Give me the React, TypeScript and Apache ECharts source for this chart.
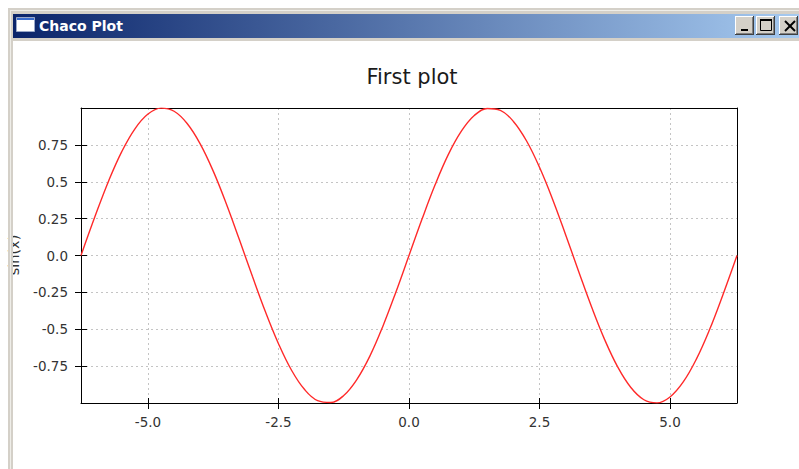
import React, { useEffect, useRef } from 'react';
import * as echarts from 'echarts';

const windowTitle = 'Chaco Plot';
const chartTitle = 'First plot';
const yAxisTitle = 'sin(x)';

const xValues = [
  -6.283, -6.0, -5.75, -5.5, -5.25, -5.0, -4.75, -4.5, -4.25, -4.0, -3.75, -3.5, -3.25,
  -3.0, -2.75, -2.5, -2.25, -2.0, -1.75, -1.5, -1.25, -1.0, -0.75, -0.5, -0.25, 0,
  0.25, 0.5, 0.75, 1.0, 1.25, 1.5, 1.75, 2.0, 2.25, 2.5, 2.75, 3.0, 3.25, 3.5, 3.75,
  4.0, 4.25, 4.5, 4.75, 5.0, 5.25, 5.5, 5.75, 6.0, 6.283,
];
const sinValues = [
  0.0, 0.279, 0.509, 0.706, 0.859, 0.959, 0.999, 0.978, 0.895, 0.757, 0.572, 0.351, 0.108,
  -0.141, -0.382, -0.598, -0.778, -0.909, -0.984, -0.997, -0.949, -0.841, -0.682, -0.479, -0.247, 0.0,
  0.247, 0.479, 0.682, 0.841, 0.949, 0.997, 0.984, 0.909, 0.778, 0.598, 0.382, 0.141, -0.108, -0.351, -0.572,
  -0.757, -0.895, -0.978, -0.999, -0.959, -0.859, -0.706, -0.509, -0.279, 0.0,
];
const xTickValues = [-5, -2.5, 0, 2.5, 5];
const yTickValues = [-0.75, -0.5, -0.25, 0, 0.25, 0.5, 0.75];
const xMin = -6.2832;
const xMax = 6.2832;
const yMin = -1;
const yMax = 1;

const FONT = 'DejaVu Sans';

export default function App() {
  const ref = useRef<HTMLDivElement>(null);

  useEffect(() => {
    const chart = echarts.init(ref.current!, null, { renderer: 'svg' });

    const gridLine = { show: true, lineStyle: { color: '#c4c4c4', width: 1, type: [2, 3] } };
    const axisLineBlack = { show: true, onZero: false, lineStyle: { color: '#000', width: 1 } };
    const labelStyle = { fontSize: 13.5, color: '#333', fontFamily: FONT };

    const buttons: any[] = [];
    [735, 756, 779].forEach((bx) => {
      buttons.push(
        { type: 'rect', z: 60, shape: { x: bx, y: 16, width: 19, height: 19 }, style: { fill: '#404040' } },
        { type: 'rect', z: 61, shape: { x: bx, y: 16, width: 18, height: 18 }, style: { fill: '#ffffff' } },
        { type: 'rect', z: 62, shape: { x: bx + 1, y: 17, width: 17, height: 17 }, style: { fill: '#808080' } },
        { type: 'rect', z: 63, shape: { x: bx + 1, y: 17, width: 16, height: 16 }, style: { fill: '#d4d0c8' } },
      );
    });

    const option: any = {
      animation: false,
      backgroundColor: '#ffffff',
      title: {
        text: chartTitle,
        left: 407,
        top: 61,
        textAlign: 'center',
        textStyle: { fontSize: 21, fontWeight: 'normal', color: '#1a1a1a', fontFamily: FONT },
      },
      grid: { left: 81, top: 108, width: 656, height: 295, containLabel: false, outerBoundsMode: 'none' },
      xAxis: [
        {
          type: 'value', position: 'bottom', min: xMin, max: xMax,
          axisLine: axisLineBlack,
          axisTick: { show: true, inside: false, length: 6, customValues: xTickValues, lineStyle: { color: '#000' } },
          axisLabel: { show: true, customValues: xTickValues, margin: 12, formatter: (v: number) => v.toFixed(1), ...labelStyle },
          splitLine: gridLine,
        },
        {
          type: 'value', position: 'bottom', min: xMin, max: xMax,
          axisLine: { show: false, onZero: false },
          axisTick: { show: true, inside: true, length: 5, customValues: xTickValues, lineStyle: { color: '#000' } },
          axisLabel: { show: false },
          splitLine: { show: false },
        },
        {
          type: 'value', position: 'top', min: xMin, max: xMax,
          axisLine: axisLineBlack,
          axisTick: { show: false },
          axisLabel: { show: false },
          splitLine: { show: false },
        },
      ],
      yAxis: [
        {
          type: 'value', position: 'left', min: yMin, max: yMax,
          axisLine: axisLineBlack,
          axisTick: { show: true, inside: false, length: 6, customValues: yTickValues, lineStyle: { color: '#000' } },
          axisLabel: {
            show: true, customValues: yTickValues, margin: 13,
            formatter: (v: number) => (v === 0 ? '0.0' : String(v)), ...labelStyle,
          },
          splitLine: gridLine,
        },
        {
          type: 'value', position: 'left', min: yMin, max: yMax,
          axisLine: { show: false, onZero: false },
          axisTick: { show: true, inside: true, length: 6, customValues: yTickValues, lineStyle: { color: '#000' } },
          axisLabel: { show: false },
          splitLine: { show: false },
        },
        {
          type: 'value', position: 'right', min: yMin, max: yMax,
          axisLine: axisLineBlack,
          axisTick: { show: false },
          axisLabel: { show: false },
          splitLine: { show: false },
        },
      ],
      series: [
        {
          type: 'line', xAxisIndex: 0, yAxisIndex: 0,
          data: xValues.map((x, i) => [x, sinValues[i]]),
          showSymbol: false, smooth: 0.4,
          lineStyle: { color: '#ff2a2a', width: 1.4 },
          z: 5,
        },
      ],
      graphic: [
        {
          type: 'text', x: 14, y: 255, rotation: Math.PI / 2, z: 1,
          style: { text: yAxisTitle, fontSize: 14.5, fontFamily: FONT, fill: '#333', align: 'center', verticalAlign: 'middle' },
        },
        // window frame
        { type: 'rect', z: 50, shape: { x: 8, y: 8, width: 5, height: 461 }, style: { fill: '#d4d0c8' } },
        { type: 'rect', z: 50, shape: { x: 8, y: 8, width: 791, height: 6 }, style: { fill: '#d4d0c8' } },
        { type: 'line', z: 51, shape: { x1: 10.5, y1: 10, x2: 10.5, y2: 469 }, style: { stroke: '#eeede8', lineWidth: 1 } },
        { type: 'line', z: 51, shape: { x1: 10, y1: 10.5, x2: 799, y2: 10.5 }, style: { stroke: '#eeede8', lineWidth: 1 } },
        { type: 'rect', z: 50, shape: { x: 13, y: 38, width: 786, height: 3 }, style: { fill: '#d4d0c8' } },
        {
          type: 'rect', z: 52, shape: { x: 13, y: 14, width: 786, height: 24 },
          style: {
            fill: new echarts.graphic.LinearGradient(0, 0, 1, 0, [
              { offset: 0, color: '#0a246a' },
              { offset: 1, color: '#a6caf0' },
            ]),
          },
        },
        // icon
        { type: 'rect', z: 53, shape: { x: 16.5, y: 17.5, width: 18, height: 14 }, style: { fill: '#ffffff', stroke: '#9aa8c8', lineWidth: 1 } },
        { type: 'rect', z: 54, shape: { x: 17, y: 18, width: 17, height: 2 }, style: { fill: '#3a6ccc' } },
        {
          type: 'text', z: 53, x: 39, y: 26,
          style: { text: windowTitle, fontSize: 14, fontWeight: 'bold', fontFamily: FONT, fill: '#ffffff', align: 'left', verticalAlign: 'middle' },
        },
        ...buttons,
        { type: 'rect', z: 70, shape: { x: 741, y: 29, width: 7, height: 2 }, style: { fill: '#000' } },
        { type: 'rect', z: 70, shape: { x: 760.5, y: 19.5, width: 11, height: 11 }, style: { fill: 'none', stroke: '#000', lineWidth: 1 } },
        { type: 'rect', z: 70, shape: { x: 760, y: 19, width: 12, height: 2 }, style: { fill: '#000' } },
        { type: 'line', z: 70, shape: { x1: 785, y1: 21, x2: 795, y2: 31 }, style: { stroke: '#000', lineWidth: 2 } },
        { type: 'line', z: 70, shape: { x1: 795, y1: 21, x2: 785, y2: 31 }, style: { stroke: '#000', lineWidth: 2 } },
      ],
    };

    chart.setOption(option);
    return () => chart.dispose();
  }, []);

  return (
    <div
      ref={ref}
      style={{ position: 'fixed', left: 0, top: 0, width: 799, height: 469, background: '#ffffff' }}
    />
  );
}
